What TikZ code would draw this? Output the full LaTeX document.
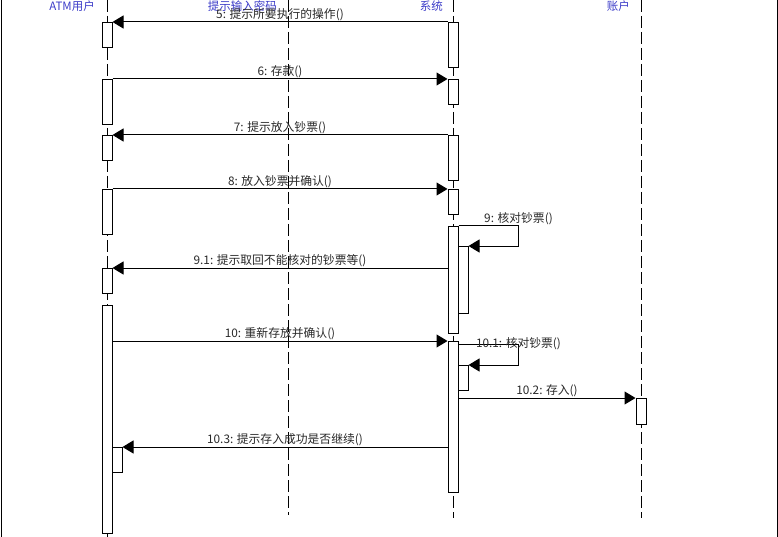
\documentclass[tikz,border=0pt]{standalone}
\usepackage{fontspec}
\setmainfont{Liberation Sans}
\newfontfamily\cjk{Noto Sans CJK SC}
\usepackage{tikz}
\usetikzlibrary{arrows.meta,positioning,calc}
\definecolor{titleblue}{RGB}{60,60,200}
\definecolor{msgtext}{RGB}{40,40,40}

\begin{document}
\begin{tikzpicture}[x=1pt,y=-1pt,
  lifeline/.style={line width=1pt,dash pattern=on 12pt off 4pt},
  act/.style={draw,fill=white,line width=1pt,minimum width=10pt,inner sep=0pt,anchor=north},
  msg/.style={line width=1pt,-{Triangle[length=11pt,width=13pt]}},
  msglabel/.style={font=\cjk\fontsize{11.8}{12}\selectfont,text=msgtext,inner sep=1pt},
  title/.style={font=\cjk\fontsize{11.5}{12}\selectfont,text=titleblue,anchor=east,inner sep=0pt}]
  \def\Xuser{107} % ATM用户的生命线
  \def\Xmima{288} % 提示输入密码的生命线
  \def\Xsys{453}  % 系统的生命线
  \def\Xacc{641}  % 账户的生命线
  \useasboundingbox (0,0) rectangle (778,537);
  \draw[line width=1pt] (1,0) -- (1,537); % 左边框
  \draw[line width=1pt] (777,0) -- (777,537); % 右边框
  % 生命线与标题
  \draw[lifeline] (\Xuser,0) -- (\Xuser,537);
  \draw[lifeline] (\Xmima,0) -- (\Xmima,515);
  \draw[lifeline] (\Xsys,0) -- (\Xsys,518);
  \draw[lifeline] (\Xacc,0) -- (\Xacc,518);
  \node[title] (tUser) at (\Xuser-12,6) {ATM用户};
  \node[title] (tMima) at (\Xmima-11,6) {提示输入密码};
  \node[title] (tSys) at (\Xsys-10,6) {系统};
  \node[title] (tAcc) at (\Xacc-11,6) {账户};
  % ATM用户的激活框
  \node[act,minimum height=25pt] (u1) at (\Xuser,22) {};
  \node[act,minimum height=45pt] (u2) at (\Xuser,79) {};
  \node[act,minimum height=25pt] (u3) at (\Xuser,135) {};
  \node[act,minimum height=45pt] (u4) at (\Xuser,189) {};
  \node[act,minimum height=25pt] (u5) at (\Xuser,268) {};
  \node[act,minimum height=228pt] (u6) at (\Xuser,305) {};
  \node[act,minimum height=25pt] (u6n) at (\Xuser+10,447) {}; % 嵌套
  % 系统的激活框
  \node[act,minimum height=45pt] (s1) at (\Xsys,22) {};
  \node[act,minimum height=25pt] (s2) at (\Xsys,79) {};
  \node[act,minimum height=45pt] (s3) at (\Xsys,135) {};
  \node[act,minimum height=25pt] (s4) at (\Xsys,189) {};
  \node[act,minimum height=107pt] (s5) at (\Xsys,226) {};
  \node[act,minimum height=67pt] (s5n) at (\Xsys+10,246) {}; % 嵌套(9)
  \node[act,minimum height=151pt] (s6) at (\Xsys,341) {};
  \node[act,minimum height=25pt] (s6n) at (\Xsys+10,365) {}; % 嵌套(10.1)
  % 账户的激活框
  \node[act,minimum height=26pt] (a1) at (\Xacc,398) {};
  % 消息
  \draw[msg] (s1.north west) -- (u1.north east) node[msglabel,midway,above] {5: 提示所要执行的操作()};
  \draw[msg] (u2.north east) -- (s2.north west) node[msglabel,midway,above] {6: 存款()};
  \draw[msg] (s3.north west) -- (u3.north east) node[msglabel,midway,above] {7: 提示放入钞票()};
  \draw[msg] (u4.north east) -- (s4.north west) node[msglabel,midway,above] {8: 放入钞票并确认()};
  \draw[msg] (s5.north east) -- ++(60,0) node[msglabel,above] {9: 核对钞票()} |- (s5n.north east); % 自调用
  \draw[msg] (s5.west |- u5.north) -- (u5.north east) node[msglabel,midway,above] {9.1: 提示取回不能核对的钞票等()};
  \draw[msg] (u6.east |- s6.north) -- (s6.north west) node[msglabel,midway,above] {10: 重新存放并确认()};
  \draw[msg] ($(s6.north east)+(0,3)$) -- ++(60,0) node[msglabel] {10.1: 核对钞票()} |- (s6n.north east); % 自调用
  \draw[msg] (s6.east |- a1.north) -- (a1.north west) node[msglabel,midway,above] {10.2: 存入()};
  \draw[msg] (s6.west |- u6n.north) -- (u6n.north east) node[msglabel,midway,above] {10.3: 提示存入成功是否继续()};
\end{tikzpicture}
\end{document}
